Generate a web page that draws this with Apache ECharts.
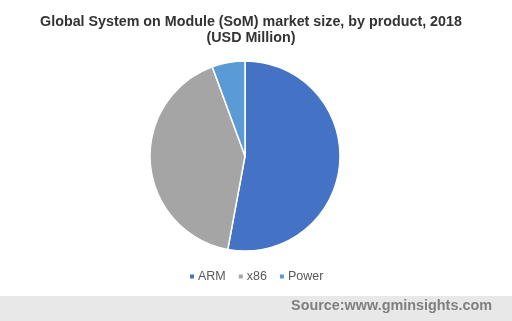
<!DOCTYPE html>
<html><head><meta charset="utf-8">
<script src="https://cdn.jsdelivr.net/npm/echarts@6/dist/echarts.min.js"></script>
<style>html,body{margin:0;padding:0;background:#fff}#c{width:512px;height:321px}</style>
</head><body><div id="c"></div>
<script>
var categories = ['ARM', 'x86', 'Power'];
var values = [52.9, 41.5, 5.6];
var colors = ['#4472C4', '#A5A5A5', '#5B9BD5'];
var titleLines = ['Global System on Module (SoM) market size, by product, 2018', '(USD Million)'];
var sourceText = 'Source:www.gminsights.com';

var titleFont = 'bold 14.3px "Liberation Sans", Arial';
var chart = echarts.init(document.getElementById('c'), null, {renderer: 'canvas'});
chart.setOption({
  animation: false,
  graphic: [
    {type: 'text', x: 251, y: 22, style: {text: titleLines[0], align: 'center', verticalAlign: 'middle', font: titleFont, fill: '#333'}},
    {type: 'text', x: 251, y: 38.5, style: {text: titleLines[1], align: 'center', verticalAlign: 'middle', font: titleFont, fill: '#333'}},
    {type: 'rect', left: 0, top: 296, shape: {width: 512, height: 25}, style: {fill: '#E8E8E8'}, silent: true},
    {type: 'text', right: 20, top: 299, style: {text: sourceText, font: 'bold 14.4px "Liberation Sans", Arial', fill: '#7F7F7F'}}
  ],
  legend: {
    top: 265, left: 183, icon: 'rect', itemWidth: 6, itemHeight: 6, itemGap: 11,
    textStyle: {fontFamily: 'Liberation Sans, Arial', fontSize: 12.5, color: '#595959', padding: [0,0,0,-2]},
    data: categories
  },
  series: [{
    type: 'pie', center: [245, 156], radius: 95, startAngle: 90, clockwise: true,
    label: {show: false}, labelLine: {show: false},
    itemStyle: {borderColor: '#fff', borderWidth: 1.5},
    data: categories.map(function (c, i) { return {name: c, value: values[i], itemStyle: {color: colors[i]}}; })
  }],
  color: colors
});
</script></body></html>
